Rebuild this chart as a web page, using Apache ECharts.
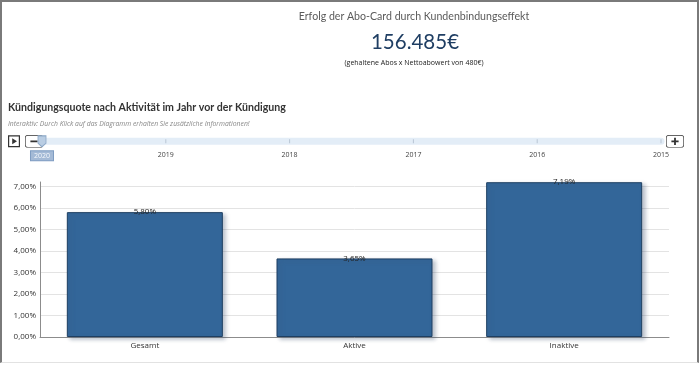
<!DOCTYPE html>
<html><head><meta charset="utf-8">
<script src="https://cdn.jsdelivr.net/npm/echarts@6/dist/echarts.min.js"></script>
<style>
html,body{margin:0;padding:0;background:#fff;}
#c{width:700px;height:366px;position:absolute;left:0;top:0;}
#frame{position:absolute;left:0;top:0;width:699px;height:363px;box-sizing:border-box;border-top:2px solid #7a7a7a;border-left:2px solid #7a7a7a;border-right:2px solid #7a7a7a;border-bottom:1px solid #e2e2e2;pointer-events:none;}
</style></head>
<body>
<div id="c"></div><div id="frame"></div>
<script>
const categories = ['Gesamt', 'Aktive', 'Inaktive'];
const quoteValues = [5.80, 3.65, 7.19];
const years = ['2020', '2019', '2018', '2017', '2016', '2015'];
const yTicks = [0, 1, 2, 3, 4, 5, 6, 7];
const headline = 'Erfolg der Abo-Card durch Kundenbindungseffekt';
const bigValue = '156.485€';
const bigValueNote = '(gehaltene Abos x Nettoabowert von 480€)';
const chartTitle = 'Kündigungsquote nach Aktivität im Jahr vor der Kündigung';
const chartNote = 'Interaktiv: Durch Klick auf das Diagramm erhalten Sie zusätzliche Informationen!';

const fmt = v => Number(v).toFixed(2).replace('.', ',') + '%';
const FONT = '"Open Sans", "DejaVu Sans", sans-serif';
const LATO = 'Lato, "Open Sans", sans-serif';

const chart = echarts.init(document.getElementById('c'), null, {renderer: 'canvas'});

const playIcon = 'path://M0,0 L20,0 L20,20 L0,20 Z M2,2 L2,18 L18,18 L18,2 Z M7,5 L15,10 L7,15 Z';
const minusIcon = 'path://M3,0 L17,0 Q20,0 20,3 L20,11 Q20,14 17,14 L3,14 Q0,14 0,11 L0,3 Q0,0 3,0 Z M3,0.7 Q0.7,0.7 0.7,3 L0.7,11 Q0.7,13.3 3,13.3 L17,13.3 Q19.3,13.3 19.3,11 L19.3,3 Q19.3,0.7 17,0.7 Z M6,6 L14,6 L14,8 L6,8 Z';
const plusIcon = 'path://M3,0 L17,0 Q20,0 20,3 L20,11 Q20,14 17,14 L3,14 Q0,14 0,11 L0,3 Q0,0 3,0 Z M3,0.7 Q0.7,0.7 0.7,3 L0.7,11 Q0.7,13.3 3,13.3 L17,13.3 Q19.3,13.3 19.3,11 L19.3,3 Q19.3,0.7 17,0.7 Z M6,6 L9,6 L9,3 L11,3 L11,6 L14,6 L14,8 L11,8 L11,11 L9,11 L9,8 L6,8 Z';

const option = {
  baseOption: {
    animation: false,
    textStyle: {fontFamily: FONT},
    timeline: {
      axisType: 'category',
      data: years,
      currentIndex: 0,
      autoPlay: false,
      padding: 0,
      left: 8, width: 670, top: 135, height: 26,
      symbol: 'rect',
      symbolSize: [1, 4],
      itemStyle: {color: '#b9c6d4', borderWidth: 0},
      lineStyle: {show: true, color: '#e3edf7', width: 7},
      progress: {
        lineStyle: {color: '#e3edf7', width: 7},
        itemStyle: {color: '#b9c6d4', borderWidth: 0},
        label: {color: '#444'}
      },
      checkpointStyle: {
        symbol: 'path://M0,0 L10,0 L10,8 L5,12 L0,8 Z',
        symbolSize: [8, 11],
        color: '#b9cde3', borderColor: '#8ea9c8', borderWidth: 1,
        animation: false
      },
      label: {
        position: 10,
        color: '#444',
        fontSize: 7,
        fontFamily: FONT,
        formatter: function (v, i) { return i === 0 ? '{cur|' + v + '}' : v; },
        rich: {
          cur: {backgroundColor: '#a4bad6', borderColor: '#7f9dc2', borderWidth: 1, color: '#f4f8fc', padding: [1, 3, 1, 3], fontSize: 7}
        }
      },
      emphasis: {label: {color: '#444'}, itemStyle: {color: '#b9c6d4'}},
      controlStyle: {
        show: true,
        showPlayBtn: true, showPrevBtn: true, showNextBtn: true,
        itemSize: 12, itemGap: 5,
        position: 'left',
        playIcon: playIcon, stopIcon: playIcon,
        prevIcon: minusIcon, nextIcon: plusIcon,
        color: '#333', borderColor: '#333', borderWidth: 0
      }
    },
    title: [
      {text: headline, left: 414, top: 11, textAlign: 'center', padding: 0,
       textStyle: {fontSize: 10.6, fontWeight: 'normal', color: '#5a5a5a', fontFamily: LATO}},
      {text: bigValue, left: 415, top: 32, textAlign: 'center', padding: 0,
       textStyle: {fontSize: 20.5, fontWeight: 'normal', color: '#1f3e63', fontFamily: LATO}},
      {text: bigValueNote, left: 414, top: 59, textAlign: 'center', padding: 0,
       textStyle: {fontSize: 7, fontWeight: 'normal', color: '#222', fontFamily: FONT}},
      {text: chartTitle, left: 8, top: 102, padding: 0,
       textStyle: {fontSize: 10.6, fontWeight: 'bold', color: '#333', fontFamily: LATO}},
      {text: chartNote, left: 8, top: 121, padding: 0,
       textStyle: {fontSize: 6.8, fontStyle: 'italic', fontWeight: 'normal', color: '#888', fontFamily: FONT}}
    ],
    grid: {left: 40, right: 31, top: 182, bottom: 29, containLabel: false},
    xAxis: {
      type: 'category',
      data: categories,
      axisLine: {show: true, lineStyle: {color: '#8c8c8c', width: 1}},
      axisTick: {show: false},
      axisLabel: {color: '#333', fontSize: 8, margin: 5, fontFamily: FONT}
    },
    yAxis: {
      type: 'value',
      min: yTicks[0],
      max: 7.2,
      interval: 1,
      axisLine: {show: true, lineStyle: {color: '#8c8c8c', width: 1}},
      axisTick: {show: false},
      axisLabel: {color: '#333', fontSize: 8, margin: 4, fontFamily: FONT, showMaxLabel: false,
        formatter: v => (yTicks.indexOf(v) >= 0 ? fmt(v) : '')},
      splitLine: {show: true, showMaxLine: false, lineStyle: {color: '#e3e3e3', width: 1}}
    },
    series: [{
      type: 'bar',
      data: quoteValues,
      barCategoryGap: '25.6%',
      itemStyle: {
        color: '#336699',
        borderColor: '#1e3f62',
        borderWidth: 1,
        shadowColor: 'rgba(60,80,110,0.35)',
        shadowBlur: 4,
        shadowOffsetX: 3,
        shadowOffsetY: 2
      },
      label: {
        show: true, position: 'top', distance: -4,
        color: '#222', fontSize: 8, fontFamily: FONT,
        formatter: p => fmt(p.value)
      }
    }]
  },
  options: years.map(() => ({}))
};
chart.setOption(option);
</script>
</body></html>
